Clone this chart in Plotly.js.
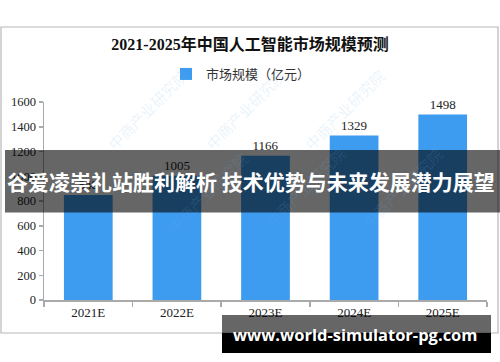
<!DOCTYPE html>
<html>
<head>
<meta charset="utf-8">
<script src="https://cdn.plot.ly/plotly-3.0.1.min.js"></script>
<style>html,body{margin:0;padding:0;background:#fff;}#chart{width:500px;height:362px;}</style>
</head>
<body>
<div id="chart"></div>
<script>
const categories = ["2021E", "2022E", "2023E", "2024E", "2025E"];
const marketSize = [848, 1005, 1166, 1329, 1498];
const seriesName = "市场规模（亿元）";
const chartTitle = "2021-2025年中国人工智能市场规模预测";
const bannerText = "谷爱凌崇礼站胜利解析 技术优势与未来发展潜力展望";
const siteText = "www.world-simulator-pg.com";
const watermarkText = "中商产业研究院";

const L = 44, R = 13, T = 102, B = 62, W = 500, H = 362;
const pw = W - L - R, ph = H - T - B;
const px = x => (x - L) / pw;
const py = y => (H - B - y) / ph;

const serif = "Liberation Serif, 'Noto Sans CJK SC', serif";
const cjk = "'Noto Sans CJK SC', sans-serif";

const wmPos = [[100,62],[245,62],[392,62],[160,240],[305,235],[450,235]];
const annotations = wmPos.map(p => ({
  text: watermarkText, xref: 'paper', yref: 'paper', x: px(p[0]), y: py(p[1]),
  showarrow: false, textangle: -45, font: {family: cjk, size: 15, color: 'rgba(110,175,230,0.16)'}
}));
annotations.push({
  text: bannerText, xref: 'paper', yref: 'paper', x: px(251), y: py(181),
  xanchor: 'center', yanchor: 'middle', showarrow: false,
  font: {family: cjk, size: 21, color: '#ffffff', weight: 'bold'}
});
annotations.push({
  text: siteText, xref: 'paper', yref: 'paper', x: px(355), y: py(334),
  xanchor: 'center', yanchor: 'middle', showarrow: false,
  font: {family: "'Open Sans', 'DejaVu Sans', sans-serif", size: 16.5, color: '#ffffff', weight: 'bold'}
});

const shapes = [
  {type: 'rect', xref: 'paper', yref: 'paper', x0: px(1), x1: px(498), y0: py(333), y1: py(27),
   line: {color: '#b8b8b8', width: 1.2}, fillcolor: 'rgba(0,0,0,0)', layer: 'below'},
  {type: 'rect', xref: 'paper', yref: 'paper', x0: px(5), x1: px(501), y0: py(212.5), y1: py(150),
   line: {width: 0}, fillcolor: 'rgba(0,0,0,0.6)', layer: 'above'},
  {type: 'rect', xref: 'paper', yref: 'paper', x0: px(222), x1: px(491), y0: py(333), y1: py(315),
   line: {width: 0}, fillcolor: 'rgba(0,0,0,0.6)', layer: 'above'},
  {type: 'rect', xref: 'paper', yref: 'paper', x0: px(222), x1: px(491), y0: py(353), y1: py(333),
   line: {width: 0}, fillcolor: '#000000', layer: 'above'}
];

const trace = {
  type: 'bar', x: categories, y: marketSize, name: seriesName,
  marker: {color: '#3d9cf0'},
  text: marketSize.map(String), textposition: 'outside', cliponaxis: false,
  textfont: {family: serif, size: 13, color: '#222'},
  hoverinfo: 'skip'
};

const layout = {
  width: W, height: H,
  margin: {l: L, r: R, t: T, b: B},
  paper_bgcolor: '#ffffff', plot_bgcolor: '#ffffff',
  bargap: 0.45,
  showlegend: true,
  title: {text: chartTitle, x: px(250), xref: 'paper', xanchor: 'center',
          y: 1 - 44 / H, yref: 'container', yanchor: 'middle',
          font: {family: serif, size: 16, color: '#111', weight: 'bold'}},
  legend: {orientation: 'h', x: px(241), xanchor: 'center', y: py(74), yanchor: 'middle',
           font: {family: cjk, size: 13, color: '#333'}, bgcolor: 'rgba(0,0,0,0)',
           itemwidth: 30},
  xaxis: {type: 'category', showgrid: false, zeroline: false, showline: true,
          linecolor: '#aaaaaa', linewidth: 1.5, ticks: 'outside', tickson: 'boundaries',
          ticklen: 5, tickcolor: '#aaaaaa', tickwidth: 1.5,
          tickfont: {family: serif, size: 13, color: '#222'}, fixedrange: true},
  yaxis: {range: [0, 1600], dtick: 200, showgrid: false, zeroline: false, showline: true,
          linecolor: '#aaaaaa', linewidth: 1.5, ticks: 'outside', ticklen: 4,
          tickcolor: '#aaaaaa', tickwidth: 1.5,
          tickfont: {family: serif, size: 12.5, color: '#222'}, fixedrange: true},
  shapes: shapes,
  annotations: annotations
};

Plotly.newPlot('chart', [trace], layout, {displayModeBar: false, staticPlot: true});
</script>
</body>
</html>
